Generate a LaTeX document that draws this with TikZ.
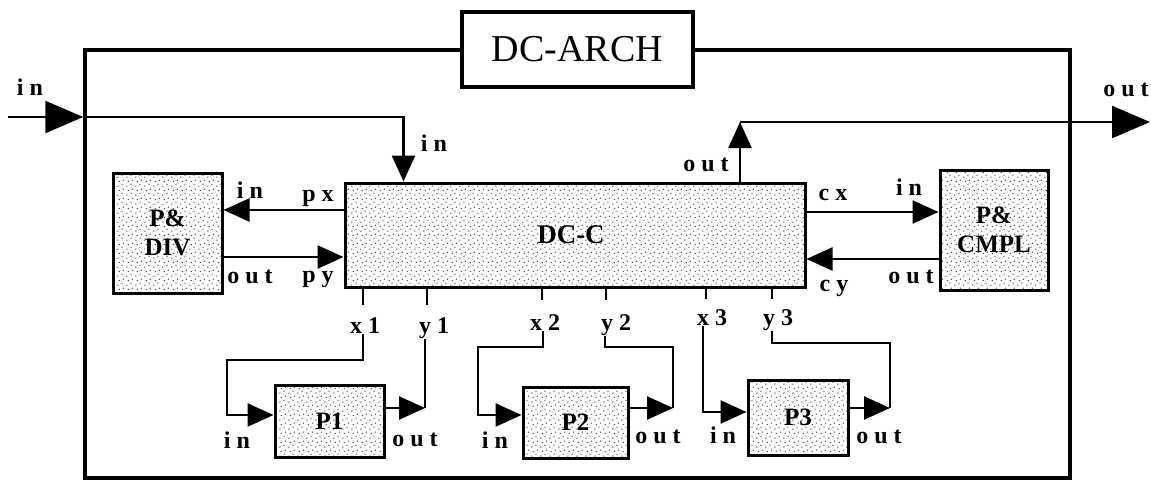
\documentclass[tikz,border=0pt]{standalone}
\usepackage{fontspec}
\setmainfont{Liberation Serif}
\newfontfamily\lblfont[LetterSpace=25]{Liberation Serif}
\usetikzlibrary{arrows.meta,patterns,calc}
\pgfdeclarepatternformonly{stip}{\pgfqpoint{0pt}{0pt}}{\pgfqpoint{9pt}{9pt}}{\pgfqpoint{9pt}{9pt}}{%
  \pgfpathcircle{\pgfqpoint{1pt}{1pt}}{0.75pt}%
  \pgfpathcircle{\pgfqpoint{5.5pt}{3pt}}{0.75pt}%
  \pgfpathcircle{\pgfqpoint{2.5pt}{6pt}}{0.75pt}%
  \pgfpathcircle{\pgfqpoint{7pt}{7.5pt}}{0.75pt}%
  \pgfusepath{fill}}
\begin{document}
\begin{tikzpicture}[x=1pt,y=-1pt,
  conn/.style={line width=2.5pt},
  tip/.style={conn,-{Triangle[length=26pt,width=23pt]}},
  bigtip/.style={conn,-{Triangle[length=38pt,width=32pt]}},
  framebox/.style={draw,line width=3.5pt,inner sep=0pt},
  archbox/.style={draw,line width=3.5pt,fill=white,inner sep=0pt,font=\fontsize{38}{40}\selectfont},
  blk/.style={draw,line width=3pt,pattern=stip,pattern color=black!80,inner sep=0pt,align=center,font=\bfseries\fontsize{25}{29}\selectfont},
  bigblk/.style={blk,font=\bfseries\fontsize{27}{29}\selectfont},
  lbl/.style={anchor=base,inner sep=1pt,font=\lblfont\bfseries\fontsize{24}{24}\selectfont}]
\useasboundingbox (0,0) rectangle (1151,483);

% frame and title
\node[framebox,minimum width=985pt,minimum height=428pt] (frame) at (577.5,264) {};
\node[archbox,minimum width=231pt,minimum height=75pt] (arch) at (577.5,49.5) {DC-ARCH\hspace{10pt}};

% blocks
\node[bigblk,minimum width=460pt,minimum height=104pt] (dcc) at (575,235) {DC-C\hspace{8pt}};
\node[blk,minimum width=109pt,minimum height=120pt] (pdiv) at (167.5,233) {P\&\\DIV};
\node[blk,minimum width=108pt,minimum height=120pt] (pcmpl) at (994,230) {P\&\\CMPL};
\node[blk,minimum width=109pt,minimum height=72pt] (p1) at (329.5,421) {P1};
\node[blk,minimum width=105pt,minimum height=71pt] (p2) at (575.5,422.5) {P2};
\node[blk,minimum width=100pt,minimum height=75pt] (p3) at (798,417.5) {P3};

% labels
\node[lbl] (lin) at (30,95) {in};
\node[lbl] (lout) at (1126,96) {out};
\node[lbl] (cin) at (434,151) {in};
\node[lbl] (cout) at (706,171) {out};
\node[lbl] (dvin) at (250,198) {in};
\node[lbl] (px) at (318,201) {px};
\node[lbl] (dvout) at (250,283) {out};
\node[lbl] (py) at (318,282) {py};
\node[lbl] (cx) at (833,200) {cx};
\node[lbl] (cmin) at (909,195) {in};
\node[lbl] (cmout) at (911,283) {out};
\node[lbl] (cy) at (834,291) {cy};
\node[lbl] (x1) at (365,333) {x1};
\node[lbl] (y1) at (434,333) {y1};
\node[lbl] (x2) at (545,330) {x2};
\node[lbl] (y2) at (616,330) {y2};
\node[lbl] (x3) at (712,325) {x3};
\node[lbl] (y3) at (778,325) {y3};
\node[lbl] (p1in) at (237,448) {in};
\node[lbl] (p1out) at (415,446) {out};
\node[lbl] (p2in) at (495,448) {in};
\node[lbl] (p2out) at (658,443) {out};
\node[lbl] (p3in) at (723,443) {in};
\node[lbl] (p3out) at (879,443) {out};

% coordinates
\coordinate (inL) at (8,117);
\coordinate (outc) at (740,122);
\coordinate (outR) at (1150,122);
\coordinate (c1) at (425,408);
\coordinate (c2) at (673,408);
\coordinate (c3) at (890,408);

% global in / out
\draw[bigtip] (inL) -- (inL -| frame.west);
\draw[tip] (inL -| frame.west) -| ($(dcc.north west)+(60,0)$);
\draw[tip] (dcc.north -| outc) -- (outc);
\draw[bigtip] (outc) -- (outR);

% side blocks
\draw[tip] (dcc.west |- 0,210) -- (pdiv.east |- 0,210);
\draw[tip] (pdiv.east |- 0,257) -- (dcc.west |- 0,257);
\draw[tip] (dcc.east |- 0,212) -- (pcmpl.west |- 0,212);
\draw[tip] (pcmpl.west |- 0,259) -- (dcc.east |- 0,259);

% port stubs
\foreach \px/\len in {363/16,427/16,542/11,606/11,706/10,772/10}
  \draw[conn] (dcc.south -| \px,0) -- ++(0,\len);

% P1
\draw[tip] (x1.south -| 363,0) |- (227,360) |- (p1.west |- 0,415);
\draw[conn] (y1.south -| c1) -- (c1);
\draw[tip] (p1.east |- c1) -- (c1);
% P2
\draw[tip] (x2.south -| 543,0) |- (478,347) |- (p2.west |- 0,415);
\draw[conn] (y2.south -| 605,0) |- (673,347) -- (c2);
\draw[tip] (p2.east |- c2) -- (c2);
% P3
\draw[tip] (x3.south -| 703,0) |- (p3.west |- 0,412);
\draw[conn] (y3.south -| 772,0) |- (890,343) -- (c3);
\draw[tip] (p3.east |- c3) -- (c3);
\end{tikzpicture}
\end{document}
